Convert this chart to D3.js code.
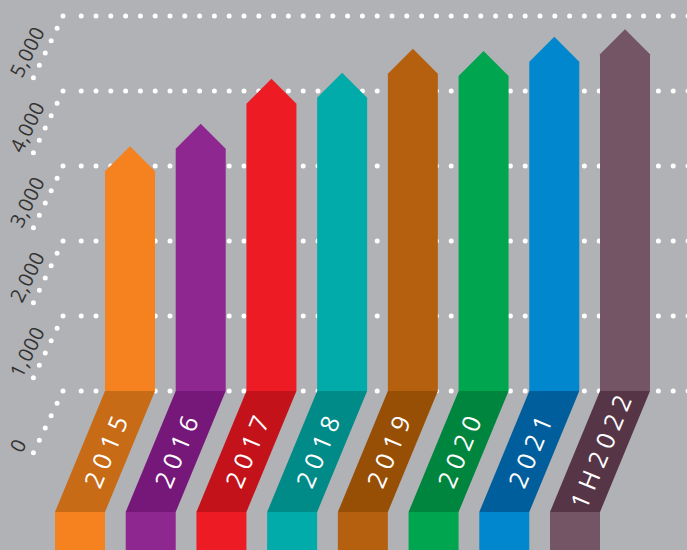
<!DOCTYPE html>
<html>
<head>
<meta charset="utf-8">
<script src="https://cdn.jsdelivr.net/npm/d3@7"></script>
<style>
    html, body { margin: 0; padding: 0; background: #b1b2b5; }
    #chart { width: 687px; height: 550px; overflow: hidden; }
    svg { display: block; }
</style>
</head>
<body>
<div id="chart"></div>
<script>
// data
const years = ['2015', '2016', '2017', '2018', '2019', '2020', '2021', '1H2022'];
const values = [2930, 3230, 3830, 3910, 4230, 4200, 4390, 4490];
const yTicks = [0, 1000, 2000, 3000, 4000, 5000];
const barColors = ['#f5821f', '#8e278f', '#ed1c24', '#00abaa', '#b5600e', '#00a54f', '#0087ce', '#735566'];
const sideColors = ['#c86b17', '#76187a', '#c4121b', '#008b88', '#974f05', '#00853e', '#005e9d', '#553546'];

const rows = years.map((y, i) => ({ year: y, value: values[i], color: barColors[i], side: sideColors[i] }));

function drawChart(el) {
    const $sel = d3.select(el);
    const width = $sel.node().offsetWidth;
    const height = $sel.node().offsetHeight;

    // layout
    const BASE = 391;      // y of zero
    const TOP = 16;        // y of 5000
    const SLANT_H = 121;   // height of the slanted strip
    const SLANT_DX = 50;   // how far the strip leans left
    const HEAD = 25;       // arrow head height
    const GRID_X = 63;     // where horizontal gridlines start
    const DIAG_DX = 35.5;
    const DIAG_DY = 74;

    const xScale = d3.scaleBand()
        .domain(years)
        .range([105, 650])
        .paddingInner(0.293)
        .paddingOuter(0);
    const yScale = d3.scaleLinear().domain([0, 5000]).range([BASE, TOP]);
    const bw = xScale.bandwidth();

    const $svg = $sel.append('svg')
        .attr('width', width)
        .attr('height', height);

    $svg.append('rect')
        .attr('width', width)
        .attr('height', height)
        .attr('fill', '#b1b2b5');

    // dotted grid
    const $grid = $svg.append('g').attr('class', 'grid');
    const $ticks = $grid.selectAll('.tick')
        .data(yTicks)
        .enter()
        .append('g')
        .attr('class', 'tick');

    $ticks.append('line')
        .attr('x1', GRID_X)
        .attr('y1', d => yScale(d))
        .attr('x2', GRID_X - DIAG_DX)
        .attr('y2', d => yScale(d) + DIAG_DY)
        .attr('stroke', '#fff')
        .attr('stroke-width', 5)
        .attr('stroke-linecap', 'round')
        .attr('stroke-dasharray', `0 ${Math.hypot(DIAG_DX, DIAG_DY) / 6}`);

    $ticks.append('line')
        .attr('x1', 81.2)
        .attr('y1', d => yScale(d))
        .attr('x2', width + 10)
        .attr('y2', d => yScale(d))
        .attr('stroke', '#fff')
        .attr('stroke-width', 5)
        .attr('stroke-linecap', 'round')
        .attr('stroke-dasharray', '0 14.8');

    $ticks.append('text')
        .attr('transform', d => `translate(22, ${yScale(d) + 63}) rotate(-64)`)
        .attr('font-family', '"Open Sans", sans-serif')
        .attr('font-size', 20)
        .attr('letter-spacing', 0.5)
        .attr('fill', '#333')
        .text(d => d3.format(',')(d));

    // bars
    const $bars = $svg.append('g').attr('class', 'bars')
        .selectAll('.bar')
        .data(rows)
        .enter()
        .append('g')
        .attr('class', 'bar');

    $bars.append('path')
        .attr('fill', d => d.color)
        .attr('d', d => {
            const x0 = xScale(d.year);
            const yv = yScale(d.value);
            return `M${x0},${BASE}V${yv}L${x0 + bw / 2},${yv - HEAD}L${x0 + bw},${yv}V${BASE}Z`;
        });

    $bars.append('path')
        .attr('fill', d => d.side)
        .attr('d', d => {
            const x0 = xScale(d.year);
            return `M${x0},${BASE}H${x0 + bw}L${x0 + bw - SLANT_DX},${BASE + SLANT_H}H${x0 - SLANT_DX}Z`;
        });

    $bars.append('rect')
        .attr('fill', d => d.color)
        .attr('x', d => xScale(d.year) - SLANT_DX)
        .attr('y', BASE + SLANT_H)
        .attr('width', bw)
        .attr('height', height - BASE - SLANT_H + 5);

    const angle = -Math.atan2(SLANT_H, SLANT_DX) * 180 / Math.PI;
    $bars.append('text')
        .attr('transform', d => `translate(${xScale(d.year) + bw / 2 - SLANT_DX / 2}, ${BASE + SLANT_H / 2}) rotate(${angle})`)
        .attr('text-anchor', 'middle')
        .attr('dominant-baseline', 'central')
        .attr('dx', 3)
        .attr('font-family', '"Open Sans", sans-serif')
        .attr('font-size', 25)
        .attr('letter-spacing', 6)
        .attr('fill', '#fff')
        .text(d => d.year);
}

drawChart(document.getElementById('chart'));
</script>
</body>
</html>
